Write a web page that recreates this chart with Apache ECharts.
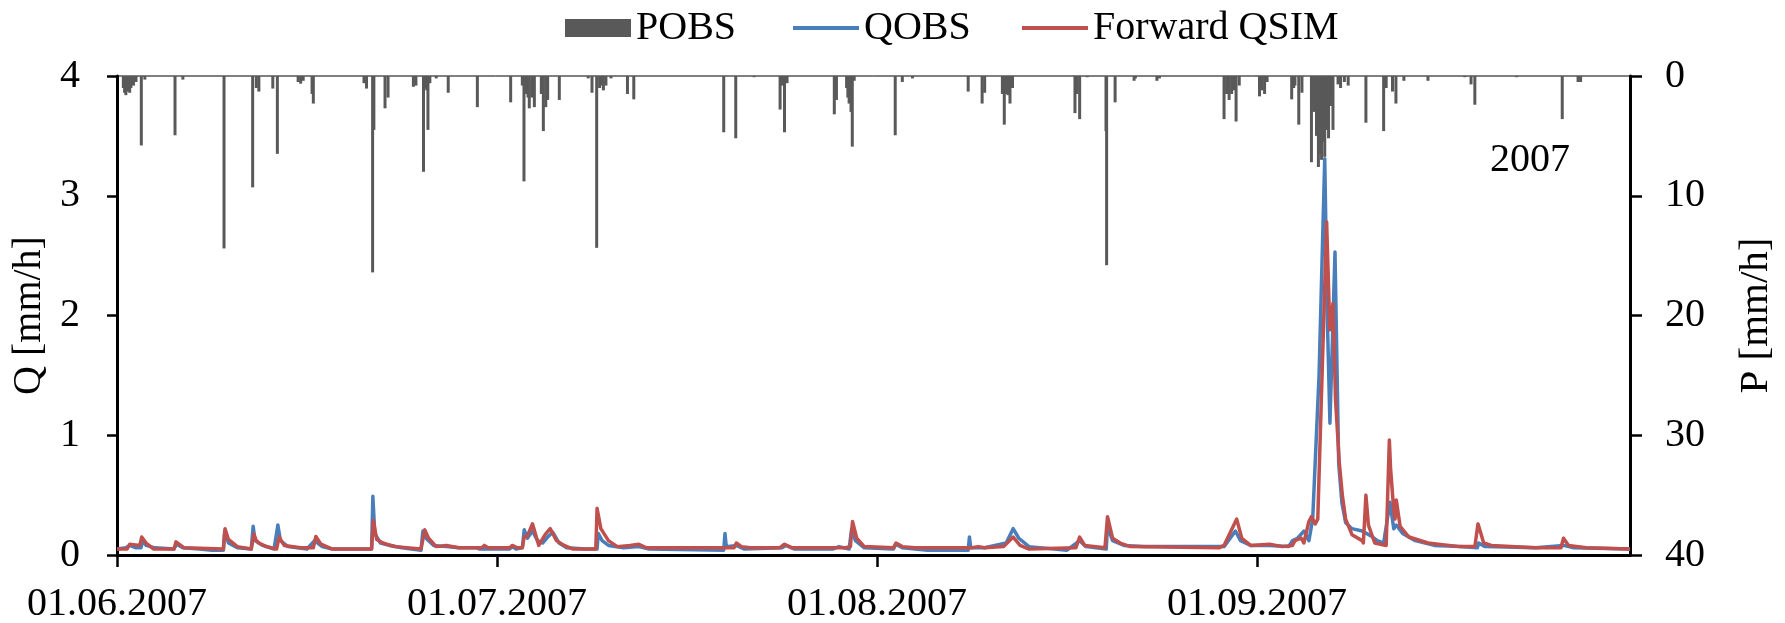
<!DOCTYPE html>
<html>
<head>
<meta charset="utf-8">
<script src="https://cdn.jsdelivr.net/npm/echarts@6/dist/echarts.min.js"></script>
<style>html,body{margin:0;padding:0;background:#fff}#c{width:1785px;height:623px}</style>
</head>
<body>
<div id="c"></div>
<script>
// x = days since 01.06.2007 00:00
const xTickLabels = ['01.06.2007', '01.07.2007', '01.08.2007', '01.09.2007'];
const yLeftTicks = [0, 1, 2, 3, 4];
const yRightTicks = [0, 10, 20, 30, 40];
const seriesNames = ['POBS', 'QOBS', 'Forward QSIM'];
const yearLabel = '2007';

// Precipitation observed [day, mm/h]
const pobs = [
  [0.5,1.0],[0.6,1.4],[0.7,1.6],[0.8,1.3],[0.9,1.2],[1.0,1.4],[1.1,1.0],[1.3,0.8],[1.5,0.5],
  [1.92,5.8],[2.2,0.3],[4.58,4.95],[5.2,0.3],[8.45,14.4],
  [10.71,9.3],[11.0,1.0],[11.2,1.3],[12.3,1.05],[12.66,6.5],
  [14.3,0.5],[14.5,0.64],[14.7,0.4],[15.4,1.5],[15.5,2.3],
  [19.5,0.6],[19.7,1.05],[20.18,16.4],[20.28,4.5],[21.16,2.7],[21.4,1.8],
  [23.4,0.9],[23.6,0.8],[24.2,8.0],[24.35,1.0],[24.45,1.2],[24.55,4.5],[24.7,0.6],[25.2,0.2],
  [26.15,1.4],[28.45,2.6],[31.08,2.2],
  [32.0,0.8],[32.13,8.8],[32.3,1.5],[32.45,1.8],[32.55,2.7],[32.75,1.8],[32.95,2.6],
  [33.5,1.5],[33.66,4.6],[33.85,2.6],[34.0,2.0],[34.92,2.0],
  [37.2,0.2],[37.5,1.4],[37.87,14.35],[38.1,1.0],[38.25,0.8],[38.4,1.2],[38.6,0.8],[39.0,0.2],
  [40.3,1.5],[40.8,1.95],[47.9,4.7],[48.85,5.2],[50.3,0.1],
  [52.35,2.8],[52.5,0.8],[52.7,4.7],[52.9,0.6],[56.63,3.2],[56.8,2.0],
  [57.6,1.0],[57.7,1.8],[57.8,2.3],[57.95,3.0],[58.05,5.9],[58.2,0.4],
  [61.44,4.95],[62.0,0.5],[62.8,0.2],[67.2,1.3],[68.3,2.3],[68.5,1.4],
  [69.9,1.5],[70.05,4.06],[70.2,1.5],[70.35,1.6],[70.5,2.3],[70.7,1.0],
  [75.63,3.1],[75.8,1.5],[76.0,3.6],[76.6,0.1],[78.08,4.6],[78.13,15.8],[78.8,2.2],
  [80.3,0.4],[80.4,0.2],[82.1,0.4],[82.3,0.2],
  [87.4,3.6],[87.6,1.5],[87.8,2.0],[88.0,1.5],[88.2,1.2],[88.35,3.8],[88.6,0.8],
  [90.2,1.7],[90.4,1.2],[90.6,1.5],[90.8,0.5],
  [92.74,1.95],[92.9,1.0],[93.0,0.8],[93.3,4.06],[93.55,1.4],
  [94.3,7.2],[94.4,2.5],[94.5,3.0],[94.6,2.8],[94.7,5.0],[94.85,7.6],[94.95,3.5],[95.0,6.5],[95.1,7.0],
  [95.2,3.0],[95.25,5.5],[95.35,6.75],[95.45,2.5],[95.5,4.5],[95.65,5.2],[95.8,2.5],[95.9,1.8],[96.0,4.5],
  [96.4,0.7],[96.6,1.0],[96.9,0.5],[97.2,0.8],[98.6,3.9],
  [100.0,4.6],[100.2,1.0],[100.7,1.3],[100.97,2.3],[101.6,0.4],[103.5,0.4],
  [106.4,0.1],[106.9,0.7],[107.2,2.4],[110.5,0.1],[114.1,3.6],[115.35,0.5],[115.55,0.5]
];

// Observed discharge [day, mm/h]
const qobs = [
  [0,0.05],[0.7,0.06],[1.0,0.08],[1.5,0.06],[1.9,0.06],[2.0,0.12],[2.3,0.08],[3.0,0.06],
  [4.5,0.05],[4.7,0.09],[5.2,0.06],[6.5,0.05],[7.5,0.04],[8.4,0.04],[8.5,0.2],[8.8,0.1],[9.5,0.06],
  [10.6,0.05],[10.75,0.24],[10.9,0.12],[11.5,0.08],[12.4,0.05],[12.7,0.25],[12.9,0.12],[13.5,0.07],
  [15.0,0.05],[15.6,0.12],[16.2,0.07],[17.0,0.05],[20.1,0.05],[20.2,0.49],[20.35,0.18],[20.8,0.1],
  [21.5,0.08],[22.5,0.06],[24.0,0.04],[24.15,0.2],[24.4,0.14],[25.0,0.08],[26.0,0.07],[27.0,0.06],
  [28.4,0.06],[28.6,0.05],[31.0,0.05],[31.2,0.07],[31.5,0.05],[32.0,0.06],[32.15,0.21],[32.4,0.14],
  [32.8,0.2],[33.2,0.12],[33.6,0.1],[34.0,0.15],[34.4,0.19],[34.9,0.1],[35.5,0.06],[37.0,0.05],
  [37.9,0.05],[38.0,0.18],[38.3,0.12],[38.8,0.08],[40.0,0.06],[41.2,0.07],[42.0,0.05],
  [47.9,0.04],[48.0,0.18],[48.1,0.07],[48.9,0.08],[49.5,0.05],[52.5,0.06],[52.8,0.08],[53.5,0.05],
  [56.5,0.05],[57.0,0.07],[57.8,0.05],[58.0,0.22],[58.3,0.12],[59.0,0.06],[61.3,0.05],[61.5,0.09],
  [62.0,0.06],[64.0,0.04],[67.2,0.04],[67.3,0.15],[67.4,0.06],[68.5,0.06],[70.2,0.1],[70.75,0.22],
  [71.2,0.14],[72.0,0.07],[75.0,0.04],[76.0,0.12],[76.5,0.07],[78.1,0.05],[78.2,0.24],[78.6,0.12],
  [79.5,0.08],[81.0,0.07],[87.4,0.07],[88.3,0.2],[88.7,0.12],[89.5,0.08],[91.0,0.08],[92.5,0.07],
  [92.8,0.12],[93.2,0.14],[93.7,0.2],[94.1,0.12],[94.4,0.3],[94.9,1.5],[95.35,3.31],[95.55,2.0],
  [95.76,1.1],[96.16,2.53],[96.45,0.77],[96.7,0.44],[97.0,0.27],[97.5,0.22],[98.3,0.2],[99.0,0.16],
  [99.5,0.12],[100.0,0.1],[100.5,0.44],[100.8,0.22],[101.0,0.25],[101.5,0.18],[102.5,0.12],
  [104.0,0.08],[106.0,0.07],[107.4,0.06],[107.5,0.1],[108.0,0.07],[112.0,0.06],[114.2,0.08],
  [115.0,0.06],[119.45,0.05]
];

// Simulated discharge [day, mm/h]
const qsim = [
  [0,0.05],[0.8,0.05],[1.0,0.09],[1.8,0.08],[1.95,0.15],[2.3,0.1],[2.9,0.05],[4.5,0.05],[4.66,0.11],
  [5.3,0.06],[8.4,0.05],[8.53,0.22],[8.8,0.13],[9.5,0.07],[10.6,0.05],[10.8,0.175],[11.0,0.12],
  [11.2,0.1],[11.8,0.07],[12.6,0.05],[12.8,0.15],[13.2,0.08],[14.5,0.06],[15.5,0.06],[15.7,0.155],
  [16.1,0.09],[17.0,0.05],[20.1,0.05],[20.24,0.29],[20.5,0.13],[21.0,0.1],[21.3,0.09],[22.0,0.07],
  [24.0,0.05],[24.3,0.21],[24.6,0.14],[25.2,0.07],[26.0,0.08],[27.0,0.06],[28.8,0.06],[29.0,0.08],
  [29.3,0.06],[31.0,0.06],[31.2,0.08],[31.6,0.06],[32.0,0.06],[32.15,0.15],[32.4,0.16],[32.8,0.26],
  [33.3,0.08],[33.8,0.17],[34.2,0.22],[34.7,0.12],[35.3,0.08],[36.0,0.05],[37.8,0.05],[37.9,0.39],
  [38.2,0.22],[38.8,0.12],[39.5,0.07],[40.5,0.08],[41.2,0.09],[41.8,0.06],[47.9,0.06],[48.7,0.06],
  [48.9,0.1],[49.3,0.07],[50.0,0.06],[52.3,0.06],[52.7,0.09],[53.3,0.06],[57.5,0.06],[57.9,0.07],
  [58.07,0.28],[58.4,0.14],[59.0,0.07],[61.3,0.06],[61.5,0.1],[62.0,0.07],[63.0,0.06],[67.5,0.06],
  [68.0,0.07],[68.5,0.06],[70.0,0.07],[70.75,0.15],[71.3,0.08],[72.0,0.05],[75.7,0.06],[76.0,0.15],
  [76.4,0.08],[78.0,0.06],[78.2,0.32],[78.6,0.14],[79.2,0.1],[80.0,0.07],[87.0,0.06],[87.4,0.08],
  [88.4,0.3],[88.8,0.14],[89.5,0.08],[91.0,0.09],[92.0,0.07],[92.8,0.08],[93.0,0.12],[93.5,0.14],
  [93.7,0.1],[94.1,0.28],[94.3,0.32],[94.6,0.26],[94.8,0.3],[95.5,2.78],[95.75,1.88],[96.0,2.1],
  [96.2,1.3],[96.5,0.77],[96.75,0.49],[97.0,0.3],[97.5,0.17],[98.3,0.12],[98.4,0.1],[98.6,0.5],
  [98.8,0.25],[99.3,0.1],[100.2,0.08],[100.45,0.96],[100.55,0.72],[100.8,0.37],[100.9,0.3],
  [101.0,0.46],[101.3,0.24],[102.0,0.15],[103.5,0.1],[106.0,0.07],[107.2,0.07],[107.45,0.26],
  [107.9,0.1],[108.5,0.08],[112.0,0.06],[114.0,0.06],[114.2,0.14],[114.6,0.08],[116.0,0.06],
  [119.45,0.05]
];

const FONT = 'Liberation Serif';
const chart = echarts.init(document.getElementById('c'), null, {renderer: 'canvas'});
const legendBase = {
  top: 3, orient: 'horizontal', selectedMode: false, itemWidth: 66,
  textStyle: {fontFamily: FONT, fontSize: 40, color: '#000'}
};
chart.setOption({
  animation: false,
  backgroundColor: '#fff',
  grid: {left: 117, right: 155, top: 76, bottom: 68, containLabel: false, outerBoundsMode: 'none',
    show: true, borderColor: '#000', borderWidth: 1, backgroundColor: 'transparent'},
  legend: [
    Object.assign({}, legendBase, {left: 560, itemHeight: 18, data: [{name: seriesNames[0], icon: 'rect'}]}),
    Object.assign({}, legendBase, {left: 788, itemHeight: 4, data: [{name: seriesNames[1], icon: 'rect'}]}),
    Object.assign({}, legendBase, {left: 1017, itemHeight: 4, data: [{name: seriesNames[2], icon: 'rect'}]})
  ],
  graphic: [{
    type: 'text', left: 1490, top: 140,
    style: {text: yearLabel, font: '40px "Liberation Serif"', fill: '#000'}
  }],
  xAxis: {
    type: 'value', min: 0, max: 119.45, interval: 30,
    axisLine: {lineStyle: {color: '#000', width: 3}},
    axisTick: {show: true, length: 12, lineStyle: {color: '#000', width: 2.5}},
    axisLabel: {showMaxLabel: false, margin: 29, fontFamily: FONT, fontSize: 40, color: '#000',
      formatter: v => xTickLabels[Math.round(v / 30)] || ''},
    splitLine: {show: false}
  },
  yAxis: [{
    type: 'value', min: yLeftTicks[0], max: yLeftTicks[yLeftTicks.length - 1], interval: 1, position: 'left',
    name: 'Q [mm/h]', nameLocation: 'middle', nameRotate: 90, nameGap: 57,
    nameTextStyle: {fontFamily: FONT, fontSize: 40, color: '#000'},
    axisLine: {show: true, lineStyle: {color: '#000', width: 3}},
    axisTick: {show: true, length: 10, lineStyle: {color: '#000', width: 2.5}},
    axisLabel: {margin: 37, fontFamily: FONT, fontSize: 40, color: '#000'},
    splitLine: {show: false}
  }, {
    type: 'value', min: yRightTicks[0], max: yRightTicks[yRightTicks.length - 1], interval: 10, position: 'right', inverse: true,
    name: 'P [mm/h]', nameLocation: 'middle', nameRotate: 90, nameGap: 106,
    nameTextStyle: {fontFamily: FONT, fontSize: 41, color: '#000'},
    axisLine: {show: true, lineStyle: {color: '#000', width: 3}},
    axisTick: {show: true, length: 12, lineStyle: {color: '#000', width: 2.5}},
    axisLabel: {margin: 35, fontFamily: FONT, fontSize: 40, color: '#000'},
    splitLine: {show: false}
  }],
  series: [{
    name: seriesNames[0], type: 'bar', xAxisIndex: 0, yAxisIndex: 1, data: pobs,
    barWidth: 3, itemStyle: {color: '#595959'}, z: 1
  }, {
    name: seriesNames[1], type: 'line', yAxisIndex: 0, data: qobs, showSymbol: false,
    lineStyle: {color: '#4a7ebb', width: 3.5, join: 'round'}, itemStyle: {color: '#4a7ebb'}, z: 2
  }, {
    name: seriesNames[2], type: 'line', yAxisIndex: 0, data: qsim, showSymbol: false,
    lineStyle: {color: '#c0504d', width: 3.5, join: 'round'}, itemStyle: {color: '#c0504d'}, z: 3
  }]
});
</script>
</body>
</html>
